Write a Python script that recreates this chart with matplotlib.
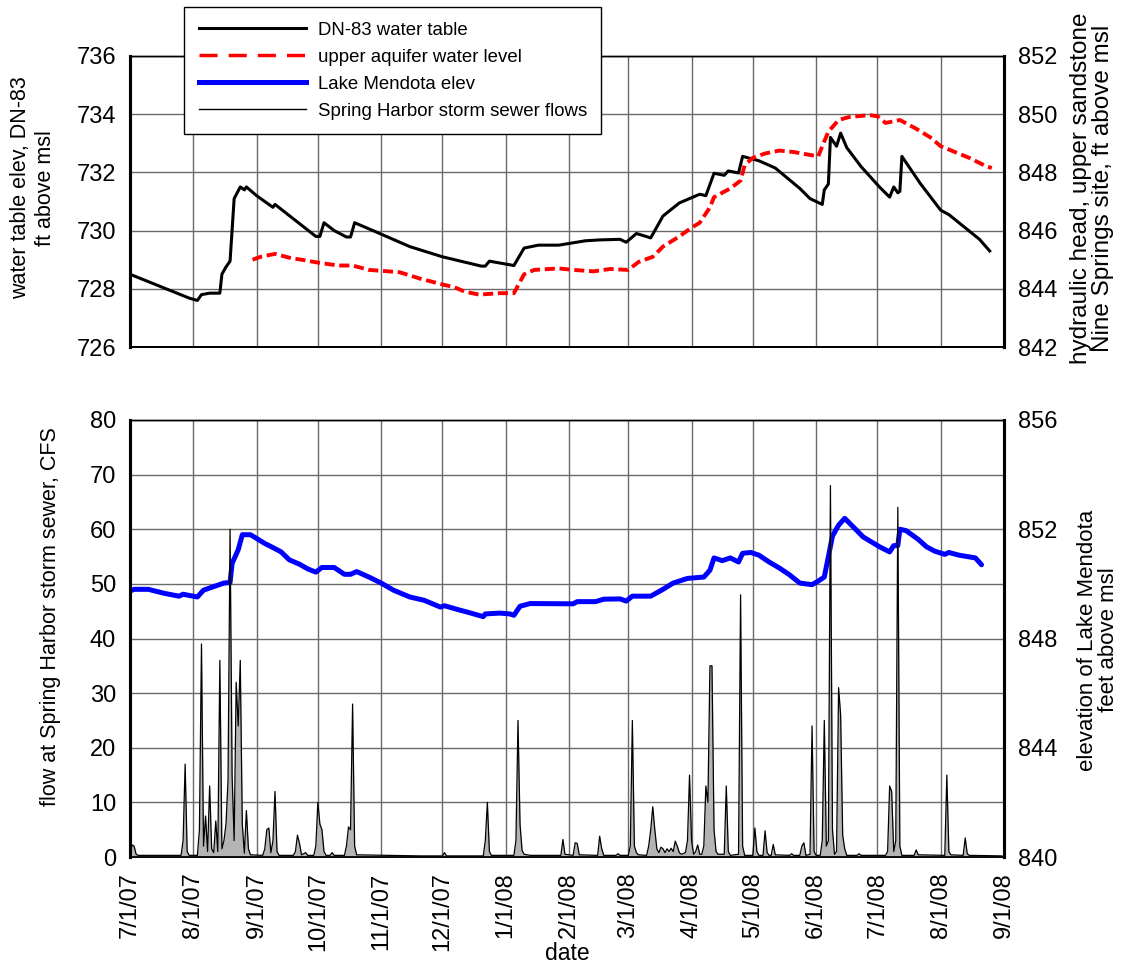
import matplotlib
matplotlib.use("Agg")
import matplotlib.pyplot as plt
import matplotlib.dates as mdates
from matplotlib.lines import Line2D
from matplotlib.ticker import FixedLocator, FuncFormatter
import numpy as np
import pandas as pd

plt.rcParams['font.family'] = ['Liberation Sans', 'DejaVu Sans']

# ---------------- data ----------------
dn83 = [("2007-07-01", 728.5), ("2007-07-30", 727.68), ("2007-08-03", 727.6), ("2007-08-05", 727.8),
        ("2007-08-09", 727.85), ("2007-08-14", 727.85), ("2007-08-15", 728.5), ("2007-08-17", 728.75),
        ("2007-08-19", 728.95), ("2007-08-21", 731.1), ("2007-08-24", 731.5), ("2007-08-26", 731.4),
        ("2007-08-27", 731.5), ("2007-09-01", 731.2), ("2007-09-05", 731.0), ("2007-09-09", 730.8),
        ("2007-09-10", 730.9), ("2007-09-30", 729.8), ("2007-10-02", 729.8), ("2007-10-04", 730.27),
        ("2007-10-09", 730.0), ("2007-10-15", 729.78), ("2007-10-17", 729.78), ("2007-10-19", 730.27),
        ("2007-10-28", 730.0), ("2007-11-15", 729.45), ("2007-12-01", 729.1), ("2007-12-20", 728.78),
        ("2007-12-22", 728.78), ("2007-12-24", 728.95), ("2007-12-28", 728.9), ("2008-01-05", 728.8),
        ("2008-01-10", 729.4), ("2008-01-17", 729.5), ("2008-01-27", 729.5), ("2008-02-09", 729.65),
        ("2008-02-16", 729.68), ("2008-02-26", 729.7), ("2008-02-29", 729.6), ("2008-03-05", 729.9),
        ("2008-03-12", 729.75), ("2008-03-18", 730.5), ("2008-03-26", 730.95), ("2008-03-31", 731.1),
        ("2008-04-05", 731.25), ("2008-04-08", 731.2), ("2008-04-12", 731.97), ("2008-04-17", 731.9),
        ("2008-04-19", 732.05), ("2008-04-24", 731.98), ("2008-04-26", 732.55), ("2008-05-04", 732.4),
        ("2008-05-12", 732.15), ("2008-05-24", 731.45), ("2008-05-29", 731.1), ("2008-06-04", 730.9),
        ("2008-06-05", 731.4), ("2008-06-07", 731.6), ("2008-06-08", 733.2), ("2008-06-11", 732.9),
        ("2008-06-13", 733.35), ("2008-06-16", 732.85), ("2008-06-23", 732.2), ("2008-07-02", 731.5),
        ("2008-07-07", 731.15), ("2008-07-09", 731.5), ("2008-07-11", 731.3), ("2008-07-12", 731.35),
        ("2008-07-13", 732.55), ("2008-07-22", 731.62), ("2008-08-01", 730.7), ("2008-08-05", 730.55),
        ("2008-08-20", 729.7), ("2008-08-25", 729.3)]

aquifer = [("2007-08-30", 845.0), ("2007-09-03", 845.1), ("2007-09-10", 845.2), ("2007-09-18", 845.05),
           ("2007-09-23", 845.0), ("2007-10-01", 844.9), ("2007-10-11", 844.8), ("2007-10-18", 844.8),
           ("2007-10-26", 844.65), ("2007-11-10", 844.57), ("2007-11-20", 844.35), ("2007-12-01", 844.15),
           ("2007-12-07", 844.05), ("2007-12-12", 843.9), ("2007-12-19", 843.8), ("2007-12-29", 843.85),
           ("2008-01-05", 843.85), ("2008-01-10", 844.5), ("2008-01-15", 844.65), ("2008-01-27", 844.7),
           ("2008-02-03", 844.65), ("2008-02-13", 844.6), ("2008-02-21", 844.68), ("2008-03-01", 844.65),
           ("2008-03-06", 844.92), ("2008-03-13", 845.1), ("2008-03-18", 845.45), ("2008-03-26", 845.8),
           ("2008-04-01", 846.1), ("2008-04-05", 846.27), ("2008-04-10", 846.8), ("2008-04-12", 847.15),
           ("2008-04-20", 847.45), ("2008-04-25", 847.72), ("2008-04-27", 848.25), ("2008-05-01", 848.5),
           ("2008-05-07", 848.65), ("2008-05-14", 848.75), ("2008-05-21", 848.7), ("2008-05-29", 848.6),
           ("2008-06-02", 848.55), ("2008-06-04", 848.9), ("2008-06-07", 849.4), ("2008-06-12", 849.8),
           ("2008-06-17", 849.9), ("2008-06-27", 849.97), ("2008-07-01", 849.93), ("2008-07-05", 849.7),
           ("2008-07-12", 849.8), ("2008-07-20", 849.5), ("2008-07-27", 849.2), ("2008-08-01", 848.9),
           ("2008-08-08", 848.7), ("2008-08-15", 848.5), ("2008-08-23", 848.22), ("2008-08-26", 848.15)]

lake = [("2007-07-01", 849.74), ("2007-07-03", 849.8), ("2007-07-10", 849.8), ("2007-07-18", 849.65),
        ("2007-07-25", 849.55), ("2007-07-27", 849.62), ("2007-08-03", 849.52), ("2007-08-06", 849.77),
        ("2007-08-11", 849.9), ("2007-08-16", 850.03), ("2007-08-19", 850.05), ("2007-08-20", 850.75),
        ("2007-08-23", 851.25), ("2007-08-25", 851.8), ("2007-08-29", 851.8), ("2007-09-05", 851.48),
        ("2007-09-09", 851.33), ("2007-09-13", 851.17), ("2007-09-17", 850.88), ("2007-09-22", 850.72),
        ("2007-09-26", 850.55), ("2007-09-30", 850.43), ("2007-10-03", 850.6), ("2007-10-09", 850.6),
        ("2007-10-14", 850.35), ("2007-10-17", 850.35), ("2007-10-20", 850.45), ("2007-10-26", 850.25),
        ("2007-11-01", 850.03), ("2007-11-07", 849.77), ("2007-11-15", 849.52), ("2007-11-22", 849.4),
        ("2007-11-30", 849.15), ("2007-12-02", 849.2), ("2007-12-09", 849.05), ("2007-12-14", 848.95),
        ("2007-12-21", 848.8), ("2007-12-22", 848.9), ("2007-12-29", 848.93), ("2008-01-03", 848.9),
        ("2008-01-05", 848.85), ("2008-01-08", 849.18), ("2008-01-13", 849.28), ("2008-02-03", 849.27),
        ("2008-02-05", 849.35), ("2008-02-14", 849.35), ("2008-02-18", 849.44), ("2008-02-26", 849.45),
        ("2008-02-29", 849.37), ("2008-03-03", 849.55), ("2008-03-12", 849.55), ("2008-03-18", 849.8),
        ("2008-03-23", 850.03), ("2008-03-30", 850.2), ("2008-04-07", 850.25), ("2008-04-10", 850.5),
        ("2008-04-12", 850.95), ("2008-04-16", 850.85), ("2008-04-20", 850.95), ("2008-04-24", 850.8),
        ("2008-04-26", 851.12), ("2008-04-30", 851.15), ("2008-05-04", 851.05), ("2008-05-09", 850.8),
        ("2008-05-14", 850.58), ("2008-05-19", 850.33), ("2008-05-24", 850.03), ("2008-05-30", 849.97),
        ("2008-06-02", 850.1), ("2008-06-05", 850.25), ("2008-06-09", 851.75), ("2008-06-12", 852.15),
        ("2008-06-15", 852.4), ("2008-06-19", 852.1), ("2008-06-24", 851.72), ("2008-07-02", 851.36),
        ("2008-07-07", 851.17), ("2008-07-09", 851.4), ("2008-07-11", 851.4), ("2008-07-12", 852.0),
        ("2008-07-15", 851.95), ("2008-07-21", 851.63), ("2008-07-25", 851.36), ("2008-07-29", 851.2),
        ("2008-08-03", 851.08), ("2008-08-05", 851.15), ("2008-08-10", 851.05), ("2008-08-18", 850.95),
        ("2008-08-21", 850.7)]

flows = [("2007-07-01", 0.3), ("2007-07-02", 2.2), ("2007-07-03", 2.0), ("2007-07-04", 0.5), ("2007-07-05", 0.3),
         ("2007-07-26", 0.3), ("2007-07-27", 3), ("2007-07-28", 17), ("2007-07-29", 1), ("2007-07-30", 0.3),
         ("2007-08-03", 0.3), ("2007-08-04", 5), ("2007-08-05", 39), ("2007-08-06", 2), ("2007-08-07", 7.5),
         ("2007-08-08", 1), ("2007-08-09", 13), ("2007-08-10", 1.5), ("2007-08-11", 0.8), ("2007-08-12", 6.6),
         ("2007-08-13", 1), ("2007-08-14", 36), ("2007-08-15", 1.5), ("2007-08-16", 3), ("2007-08-17", 6),
         ("2007-08-18", 14), ("2007-08-19", 60), ("2007-08-20", 15), ("2007-08-21", 3), ("2007-08-22", 32),
         ("2007-08-23", 24), ("2007-08-24", 36), ("2007-08-25", 6), ("2007-08-26", 0.7), ("2007-08-27", 8.5),
         ("2007-08-28", 1.5), ("2007-08-29", 0.4), ("2007-09-04", 0.3), ("2007-09-05", 1.5), ("2007-09-06", 5),
         ("2007-09-07", 5.3), ("2007-09-08", 0.8), ("2007-09-09", 3), ("2007-09-10", 12), ("2007-09-11", 1),
         ("2007-09-12", 0.3), ("2007-09-19", 0.3), ("2007-09-20", 1), ("2007-09-21", 4), ("2007-09-22", 2.5),
         ("2007-09-23", 0.4), ("2007-09-25", 0.8), ("2007-09-26", 0.3), ("2007-09-29", 0.3), ("2007-09-30", 2),
         ("2007-10-01", 10), ("2007-10-02", 6), ("2007-10-03", 5), ("2007-10-04", 1), ("2007-10-05", 0.3),
         ("2007-10-07", 0.3), ("2007-10-08", 0.8), ("2007-10-09", 0.3), ("2007-10-14", 0.3), ("2007-10-15", 2),
         ("2007-10-16", 5.5), ("2007-10-17", 5), ("2007-10-18", 28), ("2007-10-19", 2), ("2007-10-20", 0.4),
         ("2007-11-20", 0.2), ("2007-12-01", 0.2), ("2007-12-02", 0.8), ("2007-12-03", 0.2),
         ("2007-12-21", 0.2), ("2007-12-22", 3), ("2007-12-23", 10), ("2007-12-24", 1), ("2007-12-25", 0.3),
         ("2008-01-05", 0.3), ("2008-01-06", 3), ("2008-01-07", 25), ("2008-01-08", 6), ("2008-01-09", 1.2),
         ("2008-01-10", 0.5), ("2008-01-13", 0.3), ("2008-01-28", 0.3), ("2008-01-29", 3.2), ("2008-01-30", 0.5),
         ("2008-02-03", 0.3), ("2008-02-04", 2.6), ("2008-02-05", 2.5), ("2008-02-06", 0.4), ("2008-02-15", 0.3),
         ("2008-02-16", 3.8), ("2008-02-17", 1.5), ("2008-02-18", 0.3), ("2008-02-24", 0.3), ("2008-02-25", 0.6),
         ("2008-02-26", 0.3), ("2008-03-01", 0.3), ("2008-03-02", 2), ("2008-03-03", 25), ("2008-03-04", 2),
         ("2008-03-05", 0.8), ("2008-03-06", 0.4), ("2008-03-10", 0.3), ("2008-03-11", 2), ("2008-03-12", 5),
         ("2008-03-13", 9.2), ("2008-03-14", 5), ("2008-03-15", 1.5), ("2008-03-16", 0.8), ("2008-03-17", 1.8),
         ("2008-03-18", 1.5), ("2008-03-19", 0.8), ("2008-03-20", 1.5), ("2008-03-21", 1), ("2008-03-22", 1.6),
         ("2008-03-23", 1.0), ("2008-03-24", 2.9), ("2008-03-25", 2), ("2008-03-26", 0.8), ("2008-03-27", 0.5),
         ("2008-03-29", 0.8), ("2008-03-30", 3), ("2008-03-31", 15), ("2008-04-01", 3), ("2008-04-02", 0.5),
         ("2008-04-03", 1), ("2008-04-04", 2.2), ("2008-04-05", 0.5), ("2008-04-06", 0.5), ("2008-04-07", 2),
         ("2008-04-08", 13), ("2008-04-09", 10), ("2008-04-10", 35), ("2008-04-11", 35), ("2008-04-12", 5),
         ("2008-04-13", 1), ("2008-04-14", 0.5), ("2008-04-17", 0.5), ("2008-04-18", 13), ("2008-04-19", 1),
         ("2008-04-20", 0.3), ("2008-04-24", 0.5), ("2008-04-25", 48), ("2008-04-26", 2), ("2008-04-27", 0.3),
         ("2008-05-01", 0.3), ("2008-05-02", 5.3), ("2008-05-03", 1), ("2008-05-04", 0.3), ("2008-05-06", 0.3),
         ("2008-05-07", 4.8), ("2008-05-08", 0.8), ("2008-05-09", 0.3), ("2008-05-10", 0.3), ("2008-05-11", 2.3),
         ("2008-05-12", 0.4), ("2008-05-19", 0.3), ("2008-05-20", 0.6), ("2008-05-21", 0.3), ("2008-05-24", 0.3),
         ("2008-05-25", 2), ("2008-05-26", 2.6), ("2008-05-27", 0.3), ("2008-05-29", 0.5), ("2008-05-30", 24),
         ("2008-05-31", 1), ("2008-06-01", 0.3), ("2008-06-03", 0.3), ("2008-06-04", 3), ("2008-06-05", 25),
         ("2008-06-06", 2), ("2008-06-07", 3), ("2008-06-08", 68), ("2008-06-09", 5), ("2008-06-10", 0.5),
         ("2008-06-11", 1), ("2008-06-12", 31), ("2008-06-13", 26), ("2008-06-14", 4), ("2008-06-15", 1.5),
         ("2008-06-16", 0.3), ("2008-06-21", 0.3), ("2008-06-22", 0.6), ("2008-06-23", 0.3), ("2008-07-05", 0.3),
         ("2008-07-06", 1), ("2008-07-07", 13), ("2008-07-08", 12), ("2008-07-09", 1), ("2008-07-10", 3),
         ("2008-07-11", 64), ("2008-07-12", 2), ("2008-07-13", 0.3), ("2008-07-19", 0.3), ("2008-07-20", 1.3),
         ("2008-07-21", 0.4), ("2008-08-03", 0.3), ("2008-08-04", 15), ("2008-08-05", 1), ("2008-08-06", 0.4),
         ("2008-08-12", 0.3), ("2008-08-13", 3.5), ("2008-08-14", 0.6), ("2008-08-15", 0.3), ("2008-08-31", 0.2)]

legend_labels = ["DN-83 water table", "upper aquifer water level",
                 "Lake Mendota elev", "Spring Harbor storm sewer flows"]

def unpack(series):
    d = pd.to_datetime([s[0] for s in series])
    v = np.array([s[1] for s in series], dtype=float)
    return d, v

dn_d, dn_v = unpack(dn83)
aq_d, aq_v = unpack(aquifer)
lk_d, lk_v = unpack(lake)
fl_d, fl_v = unpack(flows)

xmin, xmax = pd.Timestamp("2007-07-01"), pd.Timestamp("2008-09-01")
month_ticks = pd.date_range(xmin, xmax, freq="MS")

def date_fmt(x, pos=None):
    d = mdates.num2date(x)
    return f"{d.month}/{d.day}/{d.strftime('%y')}"

GRID = "#6a6a6a"
W, H = 1127, 966
fig = plt.figure(figsize=(W / 100, H / 100), dpi=100)

L, R = 130 / W, 1004 / W
top_rect = [L, 1 - 347 / H, R - L, (347 - 56) / H]
bot_rect = [L, 1 - 857 / H, R - L, (857 - 420) / H]

def style_spines(ax):
    ax.spines['left'].set_linewidth(2.2)
    ax.spines['right'].set_linewidth(2.2)
    ax.spines['top'].set_linewidth(1.0)
    ax.spines['bottom'].set_linewidth(1.3)
    for s in ax.spines.values():
        s.set_color("black")

# ---------------- top panel ----------------
ax1 = fig.add_axes(top_rect)
ax1r = ax1.twinx()
ax1.plot(dn_d, dn_v, color="black", lw=2.2, solid_joinstyle="round")
ax1r.plot(aq_d, aq_v, color="#ff0000", lw=2.8, dashes=(2.6, 1.2))
ax1.set_ylim(726, 736)
ax1r.set_ylim(842, 852)
ax1.set_yticks(np.arange(726, 737, 2))
ax1r.set_yticks(np.arange(842, 853, 2))
ax1.set_xlim(xmin, xmax)
ax1.xaxis.set_major_locator(FixedLocator(mdates.date2num(month_ticks)))
ax1.tick_params(axis="x", labelbottom=False, length=0)
ax1.grid(True, color=GRID, lw=1.0)
ax1.set_axisbelow(True)
for a in (ax1, ax1r):
    a.tick_params(axis="y", length=0, labelsize=17, pad=10)
    style_spines(a)

# ---------------- bottom panel ----------------
ax2 = fig.add_axes(bot_rect)
ax2r = ax2.twinx()
ax2.set_zorder(2)
ax2r.set_zorder(1)
ax2.patch.set_visible(False)
ax2r.patch.set_visible(True)
ax2r.patch.set_facecolor("white")

ax2r.plot(lk_d, lk_v, color="#0000ff", lw=3.6, solid_capstyle="round", solid_joinstyle="round")
ax2.fill_between(fl_d, 0, fl_v, color="#b4b4b4", lw=0)
ax2.plot(fl_d, fl_v, color="black", lw=0.9)

ax2.set_ylim(0, 80)
ax2.set_yticks(np.arange(0, 81, 10))
ax2r.set_ylim(840, 856)
rt = np.arange(840, 857, 2)
ax2r.set_yticks(rt)
ax2r.set_yticklabels([str(v) if v % 4 == 0 else "" for v in rt])
ax2.set_xlim(xmin, xmax)
ax2.xaxis.set_major_locator(FixedLocator(mdates.date2num(month_ticks)))
ax2.xaxis.set_major_formatter(FuncFormatter(date_fmt))
ax2.tick_params(axis="x", length=0, labelsize=17, pad=11, labelrotation=90)
ax2r.xaxis.set_visible(True)
ax2r.tick_params(axis="x", length=0, labelbottom=False, labeltop=False)
ax2r.grid(True, color=GRID, lw=1.0)
ax2r.set_axisbelow(True)
for a in (ax2, ax2r):
    a.tick_params(axis="y", length=0, labelsize=17, pad=10)
    style_spines(a)

# ---------------- labels ----------------
fig.text(33 / W, 1 - 188 / H, "water table elev, DN-83\nft above msl", rotation=90,
         ha="center", va="center", multialignment="center", fontsize=15.5)
fig.text(51 / W, 1 - 617 / H, "flow at Spring Harbor storm sewer, CFS", rotation=90,
         ha="center", va="center", fontsize=15.5)
fig.text(1092 / W, 1 - 188 / H, "hydraulic head, upper sandstone\nNine Springs site, ft above msl",
         rotation=90, ha="center", va="center", multialignment="center", fontsize=17.5, linespacing=1.0)
fig.text(1098 / W, 1 - 640 / H, "elevation of Lake Mendota\nfeet above msl",
         rotation=90, ha="center", va="center", multialignment="center", fontsize=16, linespacing=1.05)
fig.text(567 / W, 1 - 953 / H, "date", ha="center", va="center", fontsize=16.5)

# ---------------- legend ----------------
handles = [Line2D([], [], color="black", lw=2.2),
           Line2D([], [], color="#ff0000", lw=2.5, dashes=(5.2, 3.2)),
           Line2D([], [], color="#0000ff", lw=3.6),
           Line2D([], [], color="black", lw=1.0)]
leg = fig.legend(handles, legend_labels, loc="upper left",
                 bbox_to_anchor=(184 / W, 1 - 7 / H), bbox_transform=fig.transFigure,
                 fontsize=13.4, frameon=True, fancybox=False, framealpha=1,
                 edgecolor="black", handlelength=5.8, handletextpad=0.6,
                 borderpad=0.78, labelspacing=0.54, borderaxespad=0)
leg.get_frame().set_linewidth(1.0)

fig.savefig("out.png", dpi=100)
